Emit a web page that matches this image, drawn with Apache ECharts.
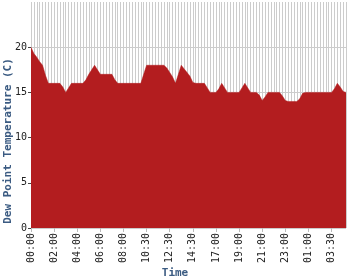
<!DOCTYPE html>
<html>
<head>
<meta charset="utf-8">
<script src="https://cdn.jsdelivr.net/npm/echarts@6/dist/echarts.min.js"></script>
<style>
html,body{margin:0;padding:0;background:#fff;}
#c{width:350px;height:280px;}
</style>
</head>
<body>
<div id="c"></div>
<script>
var times = [
 '00:00','00:15','00:30','00:45','01:00','01:15','01:30','01:45',
 '02:00','02:15','02:30','02:45','03:00','03:15','03:30','03:45',
 '04:00','04:15','04:30','04:45','05:00','05:15','05:30','05:45',
 '06:00','06:15','06:30','06:45','07:00','07:15','07:30','07:45',
 '08:00','08:30','08:45','09:00','09:15','09:30','10:00','10:15',
 '10:30','10:45','11:00','11:15','11:30','11:45','12:00','12:15',
 '12:30','12:45','13:00','13:15','13:30','13:45','14:00','14:15',
 '14:30','14:45','15:00','15:30','15:45','16:00','16:15','16:30',
 '17:00','17:15','17:30','17:45','18:00','18:15','18:30','18:45',
 '19:00','19:15','19:30','19:45','20:00','20:15','20:30','20:45',
 '21:00','21:15','21:30','21:45','22:00','22:15','22:30','22:45',
 '23:00','23:15','23:30','23:45','00:00','00:15','00:30','00:45',
 '01:00','01:15','01:30','02:00','02:15','02:30','02:45','03:00',
 '03:30','03:45','04:00','04:15','04:30','04:45'
];
var dewPoint = [
 20, 19.3, 18.9, 18.4, 18, 16.9, 16, 16,
 16, 16, 16, 15.6, 15, 15.5, 16, 16,
 16, 16, 16, 16.4, 17, 17.5, 18, 17.5,
 17, 17, 17, 17, 17, 16.4, 16, 16,
 16, 16, 16, 16, 16, 16, 16, 17,
 18, 18, 18, 18, 18, 18, 18, 17.7,
 17.2, 16.7, 16, 17, 18, 17.6, 17.2, 16.8,
 16.1, 16, 16, 16, 16, 15.5, 15, 15,
 15, 15.4, 16, 15.5, 15, 15, 15, 15,
 15, 15.5, 16, 15.5, 15, 15, 15, 14.7,
 14.1, 14.5, 15, 15, 15, 15, 15, 14.6,
 14.1, 14, 14, 14, 14, 14.3, 14.9, 15,
 15, 15, 15, 15, 15, 15, 15, 15,
 15, 15.4, 16, 15.6, 15.1, 15
];
var yMax = 25;
var yLabels = [0, 5, 10, 15, 20];
var yTitle = 'Dew Point Temperature (C)';
var xTitle = 'Time';

var chart = echarts.init(document.getElementById('c'), null, {renderer: 'canvas'});
var mono = 'DejaVu Sans Mono';
var titleColor = '#3b5b82';
var red = '#b31d1f';
chart.setOption({
  animation: false,
  backgroundColor: '#ffffff',
  grid: {left: 31, right: 4, top: 2, bottom: 52, containLabel: false},
  graphic: [
    {type: 'text', left: 'center', bottom: 1,
     style: {text: xTitle, font: 'bold 11px "' + mono + '"', fill: titleColor}},
    {type: 'text', x: 3, y: 141, rotation: Math.PI / 2,
     style: {text: yTitle, font: 'bold 11px "' + mono + '"', fill: titleColor, align: 'center', verticalAlign: 'top'}}
  ],
  xAxis: {
    type: 'category',
    data: times,
    boundaryGap: false,
    axisLine: {show: false},
    axisTick: {show: true, interval: 7, length: 4, lineStyle: {color: '#bbbbbb'}},
    axisLabel: {interval: 7, rotate: 90, fontFamily: mono, fontSize: 10, color: '#222222', margin: 5},
    splitLine: {show: true, interval: 0, lineStyle: {color: '#cccccc', width: 1}}
  },
  yAxis: {
    type: 'value',
    min: 0,
    max: yMax,
    interval: 5,
    axisLine: {show: false},
    axisTick: {show: true, length: 3, customValues: yLabels, lineStyle: {color: '#444444'}},
    axisLabel: {fontFamily: mono, fontSize: 10, color: '#222222', margin: 4, customValues: yLabels},
    splitLine: {show: true, lineStyle: {color: ['#cccccc', '#cccccc', '#cccccc', '#cccccc', '#cccccc', 'rgba(0,0,0,0)'], width: 1}}
  },
  series: [{
    type: 'line',
    data: dewPoint,
    symbol: 'none',
    lineStyle: {width: 0.5, color: red},
    areaStyle: {color: red, opacity: 1},
    itemStyle: {color: red}
  }]
});
</script>
</body>
</html>
